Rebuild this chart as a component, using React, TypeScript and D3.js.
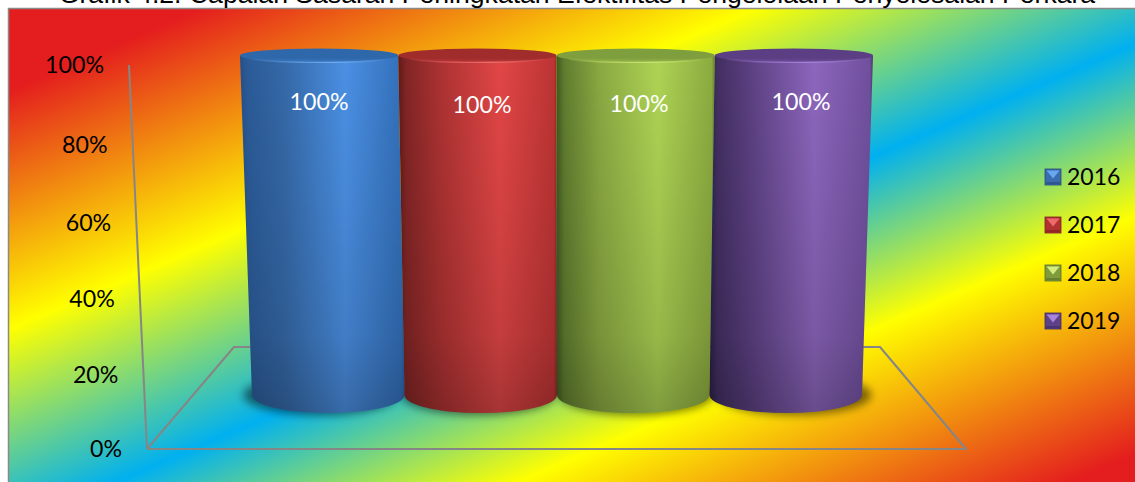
import React from "react";
import * as d3 from "d3";

const WIDTH = 1135;
const HEIGHT = 482;

const titleText = "Grafik 4.2. Capaian Sasaran Peningkatan Efektifitas Pengelolaan Penyelesaian Perkara";
const years = ["2016", "2017", "2018", "2019"];
const achievement = [100, 100, 100, 100];
const axisTicks = [0, 20, 40, 60, 80, 100];
const axisTickRows = [449, 375, 299, 223, 145, 65];
const labelRows = [102, 105, 104, 102];
const labelColumns = [319, 482, 639, 801];

const bandStops = [
  { at: 95, color: "#e41e1e" },
  { at: 333, color: "#ffff00" },
  { at: 532, color: "#00b0f0" },
  { at: 705, color: "#ffff00" },
  { at: 942, color: "#e41e1e" },
];

const palettes = [
  { edge: "#23508a", shade: "#3569a8", glow: "#4b90e4", rim: "#3370ba", cap: "#2f68aa", capLow: "#3a78c0", lip: "#6ea8ee", key: "#3a6cae", keyLight: "#6aa6ee", keyDark: "#27497a" },
  { edge: "#5f1a1a", shade: "#ad3232", glow: "#e24646", rim: "#bd3434", cap: "#a02c2c", capLow: "#b83636", lip: "#ec6c6c", key: "#b23232", keyLight: "#ee6a6a", keyDark: "#7a2222" },
  { edge: "#3d5a20", shade: "#8aa842", glow: "#aed454", rim: "#8cab40", cap: "#7f9f3e", capLow: "#94b64a", lip: "#c6e470", key: "#7f9c3c", keyLight: "#d5ec80", keyDark: "#566d2a" },
  { edge: "#2c2046", shade: "#5e4285", glow: "#8d66bd", rim: "#70509e", cap: "#5b3e83", capLow: "#6d4c9a", lip: "#a680d4", key: "#5e4289", keyLight: "#a884dc", keyDark: "#3d2a5e" },
];

// Base and rim of the cylinders converge towards the back of the scene.
const rimX = d3.scaleBand<string>().domain(years).range([240, 873]);
const baseX = d3.scaleBand<string>().domain(years).range([252, 862]);
const barY = d3.scaleLinear().domain([0, 100]).range([395, 56]);
const rimRy = 6.8;
const baseRy = 18;

// The axis is foreshortened, so its tick rows are not evenly spaced.
const tickY = d3.scaleLinear().domain(axisTicks).range(axisTickRows);
const tickRight = d3.scaleLinear().domain([0, 100]).range([122, 104]);
const wallX = d3.scaleLinear().domain([0, 100]).range([147, 129]);
const legendY = d3.scaleBand<string>().domain(years).range([169, 361]);

const outline = d3.line<[number, number]>();
const floorBackY = 347;
const floorBackLeft = 234;
const floorBackRight = 880;
const floorFrontRight = 966;

// The rainbow fill runs across the panel along the normal of its diagonal bands.
const slant = 0.43;
const alongBand = (t: number): [number, number] => {
  const k = t / (slant * slant + 1);
  return [slant * k, k];
};
const bandStart = alongBand(bandStops[0].at);
const bandEnd = alongBand(bandStops[bandStops.length - 1].at);
const bandOffset = d3
  .scaleLinear()
  .domain([bandStops[0].at, bandStops[bandStops.length - 1].at])
  .range([0, 1]);

const font = "Lato, sans-serif";
const labelSize = 23.2;

function cylinderPath(year: string, value: number) {
  const lt = rimX(year)!;
  const rt = lt + rimX.bandwidth();
  const lb = baseX(year)!;
  const rb = lb + baseX.bandwidth();
  const bottom = barY(0);
  const top = barY(value);
  const rx = baseX.bandwidth() / 2;
  return `M${lt},${top}L${lb},${bottom}A${rx},${baseRy} 0 0 0 ${rb},${bottom}L${rt},${top}Z`;
}

export default function App() {
  return (
    <svg
      width={WIDTH}
      height={HEIGHT}
      viewBox={`0 0 ${WIDTH} ${HEIGHT}`}
      style={{ position: "absolute", left: 0, top: 0, display: "block", background: "#fff" }}
    >
      <defs>
        <linearGradient
          id="panelFill"
          gradientUnits="userSpaceOnUse"
          x1={bandStart[0]}
          y1={bandStart[1]}
          x2={bandEnd[0]}
          y2={bandEnd[1]}
        >
          {bandStops.map((s) => (
            <stop key={s.at} offset={bandOffset(s.at)} stopColor={s.color} />
          ))}
        </linearGradient>
        <linearGradient id="depthShade" x1="0" y1="0" x2="0" y2="1">
          <stop offset="0" stopColor="#000" stopOpacity={0} />
          <stop offset="0.4" stopColor="#000" stopOpacity={0.06} />
          <stop offset="0.78" stopColor="#000" stopOpacity={0.13} />
          <stop offset="1" stopColor="#000" stopOpacity={0.26} />
        </linearGradient>
        <filter id="softShadow" x="-20%" y="-50%" width="140%" height="200%">
          <feGaussianBlur stdDeviation="4" />
        </filter>
        <filter id="softLip" x="-5%" y="-100%" width="110%" height="300%">
          <feGaussianBlur stdDeviation="0.7" />
        </filter>
        {palettes.map((p, i) => (
          <React.Fragment key={years[i]}>
            <linearGradient id={`side${years[i]}`} x1="0" y1="0" x2="1" y2="0">
              <stop offset="0" stopColor={p.edge} />
              <stop offset="0.05" stopColor={d3.interpolateRgb(p.edge, p.shade)(0.45)} />
              <stop offset="0.27" stopColor={p.shade} />
              <stop offset="0.64" stopColor={p.glow} />
              <stop offset="0.98" stopColor={p.rim} />
              <stop offset="1" stopColor={d3.interpolateRgb(p.rim, p.edge)(0.5)} />
            </linearGradient>
            <linearGradient id={`cap${years[i]}`} x1="0" y1="0" x2="0" y2="1">
              <stop offset="0" stopColor={p.cap} />
              <stop offset="0.7" stopColor={p.cap} />
              <stop offset="1" stopColor={p.capLow} />
            </linearGradient>
            <linearGradient id={`lip${years[i]}`} x1="0" y1="0" x2="1" y2="0">
              <stop offset="0" stopColor={p.lip} stopOpacity={0.1} />
              <stop offset="0.6" stopColor={p.lip} stopOpacity={1} />
              <stop offset="1" stopColor={p.lip} stopOpacity={0.1} />
            </linearGradient>
          </React.Fragment>
        ))}
      </defs>

      <rect x={8.5} y={8.5} width={WIDTH} height={HEIGHT} fill="url(#panelFill)" stroke="#8a8a8a" strokeWidth={1.5} />

      <text
        x={577}
        y={3}
        textAnchor="middle"
        fontFamily="'Liberation Sans', Arial, sans-serif"
        fontSize={26.6}
        fill="#000"
      >
        {titleText}
      </text>

      <g fill="none" stroke="#868686" strokeWidth={2} strokeLinejoin="round">
        <path d={outline([[wallX(100), tickY(100)], [wallX(0), tickY(0)]])!} />
        <path
          d={outline([
            [wallX(0), tickY(0)],
            [floorBackLeft, floorBackY],
            [floorBackRight, floorBackY],
            [floorFrontRight, tickY(0)],
            [wallX(0), tickY(0)],
          ])!}
        />
      </g>

      {axisTicks.map((t) => (
        <text
          key={t}
          x={tickRight(t)}
          y={tickY(t)}
          dy="0.35em"
          textAnchor="end"
          fontFamily={font}
          fontSize={labelSize}
          fill="#000"
        >
          {`${t}%`}
        </text>
      ))}

      {years.map((year) => {
        const cx = baseX(year)! + baseX.bandwidth() / 2;
        const drift = (cx - WIDTH / 2 + 20) * 0.035;
        return (
          <ellipse
            key={year}
            cx={cx + drift}
            cy={barY(0)}
            rx={baseX.bandwidth() / 2 + 1}
            ry={baseRy + 2}
            fill="#000"
            fillOpacity={0.5}
            filter="url(#softShadow)"
          />
        );
      })}

      {years.map((year, i) => {
        const d = cylinderPath(year, achievement[i]);
        const cx = rimX(year)! + rimX.bandwidth() / 2;
        const rx = rimX.bandwidth() / 2;
        const top = barY(achievement[i]);
        return (
          <g key={year}>
            <path d={d} fill={`url(#side${year})`} />
            <path d={d} fill="url(#depthShade)" />
            <ellipse cx={cx} cy={top - 0.6} rx={rx} ry={rimRy} fill={`url(#cap${year})`} />
            <path
              d={`M${cx - rx + 12},${top + 3.2}A${rx},${rimRy} 0 0 0 ${cx + rx - 12},${top + 3.2}`}
              fill="none"
              stroke={`url(#lip${year})`}
              strokeWidth={1.4}
              filter="url(#softLip)"
            />
          </g>
        );
      })}

      {years.map((year, i) => (
        <text
          key={year}
          x={labelColumns[i]}
          y={labelRows[i]}
          dy="0.35em"
          textAnchor="middle"
          fontFamily={font}
          fontSize={labelSize}
          fill="#fff"
        >
          {`${achievement[i]}%`}
        </text>
      ))}

      {years.map((year, i) => {
        const p = palettes[i];
        const y = legendY(year)!;
        const x = 1045;
        const s = 16;
        const b = 1.5;
        return (
          <g key={year}>
            <rect x={x} y={y} width={s} height={s} fill={p.key} stroke={p.keyDark} strokeWidth={0.8} />
            <polygon
              points={`${x + b},${y + b} ${x + s - b},${y + b} ${x + s / 2},${y + s / 2 + 1.5}`}
              fill={p.keyLight}
            />
            <rect x={x + 1} y={y + s - 3} width={s - 2} height={2} fill={p.keyDark} fillOpacity={0.6} />
            <text x={1067} y={y + s / 2} dy="0.35em" fontFamily={font} fontSize={23} fill="#000">
              {year}
            </text>
          </g>
        );
      })}
    </svg>
  );
}
